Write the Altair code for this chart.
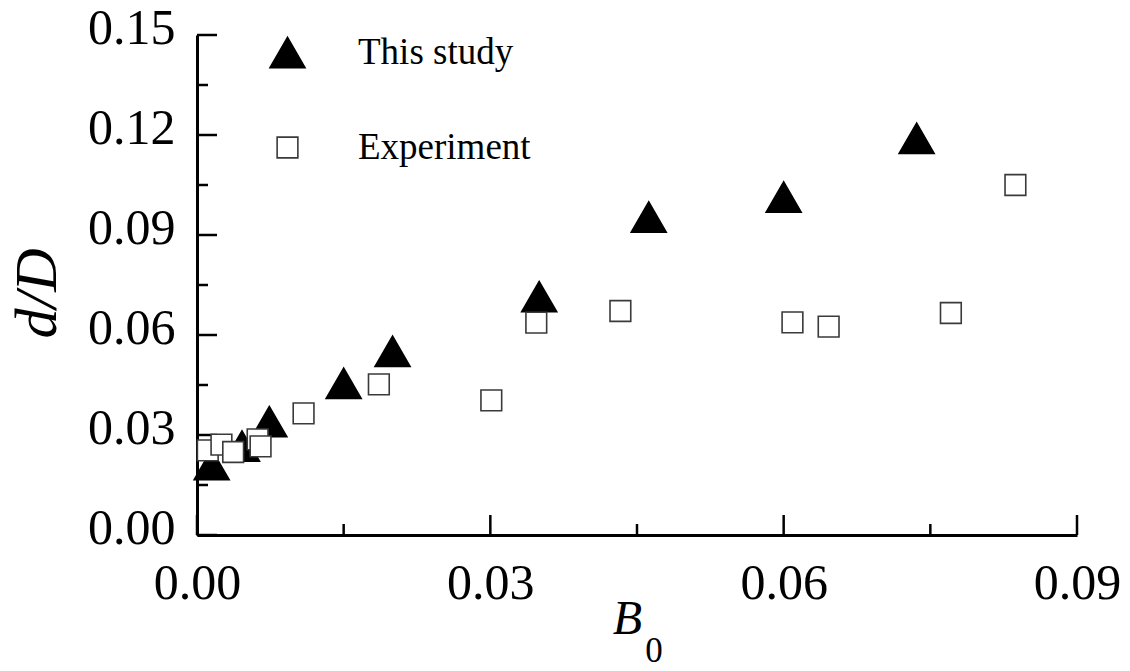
import altair as alt
import pandas as pd

# ---- data ----
series_names = ["This study", "Experiment"]

study_b0 = [0.0015, 0.0046, 0.0074, 0.0150, 0.0200, 0.0350, 0.0462, 0.0600, 0.0736]
study_dd = [0.0211, 0.0267, 0.0340, 0.0455, 0.0551, 0.0715, 0.0954, 0.1014, 0.1190]

exp_b0 = [0.0011, 0.0025, 0.0037, 0.0062, 0.0065, 0.0109, 0.0186, 0.0301,
          0.0347, 0.0433, 0.0609, 0.0646, 0.0771, 0.0837]
exp_dd = [0.0254, 0.0271, 0.0249, 0.0287, 0.0266, 0.0365, 0.0452, 0.0404,
          0.0637, 0.0672, 0.0638, 0.0625, 0.0666, 0.1050]

x_major = [0.0, 0.03, 0.06, 0.09]
x_minor = [0.015, 0.045, 0.075]
y_major = [0.0, 0.03, 0.06, 0.09, 0.12, 0.15]
y_minor = [0.015, 0.045, 0.075, 0.105, 0.135]

FONT = "Liberation Serif"
W, H = 880, 500

pts = pd.DataFrame({
    "B0": study_b0 + exp_b0,
    "dD": study_dd + exp_dd,
    "series": [series_names[0]] * len(study_b0) + [series_names[1]] * len(exp_b0),
})

xs = alt.Scale(domain=[0, 0.09], nice=False, zero=False)
ys = alt.Scale(domain=[0, 0.15], nice=False, zero=False)

x_axis = alt.Axis(values=x_major, format=".2f", title="B", labelFlush=False,
                  titleX=430, titleY=98, titleBaseline="alphabetic", titleAlign="center")
y_axis = alt.Axis(values=y_major, format=".2f", title="d/D", labelFlush=False,
                  titleX=-142, titleY=258, titleAngle=270,
                  titleBaseline="alphabetic", titleAlign="center")

points = alt.Chart(pts).mark_point(opacity=1, fillOpacity=1, strokeWidth=1.6).encode(
    x=alt.X("B0:Q", scale=xs, axis=x_axis),
    y=alt.Y("dD:Q", scale=ys, axis=y_axis),
    shape=alt.Shape("series:N", scale=alt.Scale(domain=series_names, range=["triangle-up", "square"]),
                    legend=alt.Legend(title=None, orient="none", legendX=72, legendY=-1,
                                      direction="vertical")),
    size=alt.Size("series:N", scale=alt.Scale(domain=series_names, range=[1225, 430])),
    fill=alt.Fill("series:N", scale=alt.Scale(domain=series_names, range=["black", "white"])),
    stroke=alt.Stroke("series:N", scale=alt.Scale(domain=series_names, range=["black", "#3a3a3a"])),
    order=alt.Order("ord:Q"),
).transform_calculate(ord="datum.series == 'This study' ? 0 : 1")

def xticks(vals, length):
    return alt.Chart(pd.DataFrame({"B0": vals})).mark_rule(color="black", strokeWidth=2.5).encode(
        x=alt.X("B0:Q", scale=xs),
        y=alt.value(H),
        y2=alt.value(H - length),
    )

def yticks(vals, length):
    return alt.Chart(pd.DataFrame({"dD": vals})).mark_rule(color="black", strokeWidth=2.5).encode(
        y=alt.Y("dD:Q", scale=ys),
        x=alt.value(0),
        x2=alt.value(length),
    )

sub = alt.Chart(pd.DataFrame({"t": ["0"]})).mark_text(
    font=FONT, fontSize=35, align="center", baseline="alphabetic", color="black"
).encode(text="t:N", x=alt.value(457), y=alt.value(627))

chart = alt.layer(
    xticks(x_major, 20), xticks(x_minor, 11), yticks(y_major, 20), yticks(y_minor, 11),
    points, sub,
).properties(
    width=W, height=H,
    autosize=alt.AutoSizeParams(type="none"),
    padding={"left": 197, "top": 35, "right": 53, "bottom": 136},
    background="white",
).configure_view(stroke=None).configure_axis(
    grid=False, ticks=False, tickSize=0, domainColor="black", domainWidth=3,
    labelFont=FONT, labelFontSize=50, labelColor="black",
    titleFont=FONT, titleColor="black", titleFontWeight="normal", titleFontStyle="italic",
).configure_axisX(
    labelPadding=63, labelBaseline="alphabetic", titleFontSize=48,
).configure_axisY(
    labelPadding=22, labelOffset=-7, titleFontSize=60,
).configure_legend(
    labelFont=FONT, labelFontSize=37, labelColor="black", labelOffset=52,
    rowPadding=57, padding=0, symbolStrokeWidth=1.6, labelLimit=400,
)

chart.save("out.html", embed_options={"renderer": "svg", "actions": False})
